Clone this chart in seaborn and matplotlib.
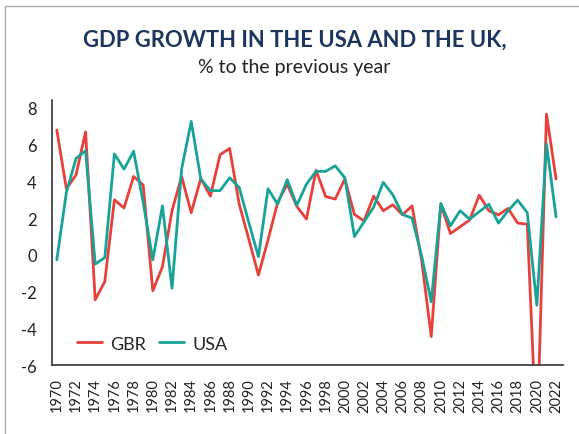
import numpy as np
import pandas as pd
import seaborn as sns
import matplotlib.pyplot as plt
from matplotlib.patches import Rectangle

# Données
years = list(range(1970, 2023))
gbr = [6.8, 3.6, 4.35, 6.7, -2.45, -1.45, 3.0, 2.55, 4.27, 3.8,
       -1.96, -0.65, 2.4, 4.27, 2.3, 4.16, 3.2, 5.45, 5.8, 2.76,
       0.85, -1.1, 0.82, 2.85, 3.85, 2.64, 1.95, 4.6, 3.18, 3.04,
       4.13, 2.2, 1.85, 3.2, 2.4, 2.73, 2.18, 2.67, -0.3, -4.45,
       2.76, 1.16, 1.53, 1.9, 3.25, 2.4, 2.18, 2.53, 1.73, 1.67,
       -10.4, 7.67, 4.13]
usa = [-0.27, 3.4, 5.25, 5.67, -0.5, -0.15, 5.5, 4.67, 5.64, 2.85,
       -0.27, 2.67, -1.82, 4.67, 7.27, 4.13, 3.5, 3.5, 4.2, 3.67,
       1.76, -0.1, 3.6, 2.76, 4.1, 2.7, 3.85, 4.55, 4.55, 4.85,
       4.2, 1.0, 1.8, 2.6, 3.95, 3.27, 2.2, 2.0, -0.05, -2.56,
       2.8, 1.58, 2.4, 1.95, 2.35, 2.76, 1.73, 2.4, 2.98, 2.3,
       -2.75, 6.04, 2.07]
countries = ['GBR', 'USA']
colors = ['#e8403a', '#17a398']

df = pd.DataFrame({'year': years * 2,
                   'value': gbr + usa,
                   'country': ['GBR'] * len(years) + ['USA'] * len(years)})

sns.set_style('white')
plt.rcParams['font.family'] = ['Lato', 'DejaVu Sans']

fig = plt.figure(figsize=(5.79, 4.35), dpi=100)
ax = fig.add_axes([0.0898, 0.1586, 0.8822, 0.6094])

sns.lineplot(data=df, x='year', y='value', hue='country', hue_order=countries,
             palette=colors, linewidth=2.0, ax=ax)

ax.set_xlim(1969.5, 2022.7)
ax.set_ylim(-6, 8.44)
ax.set_xticks(years[::2])
ax.set_xticklabels([str(y) for y in years[::2]], rotation=90, fontsize=10.5, color='#222222')
ax.set_yticks(range(-6, 9, 2))
ax.set_yticklabels([str(v) for v in range(-6, 9, 2)], fontsize=12, color='#222222')
ax.tick_params(axis='both', length=0)
ax.tick_params(axis='x', pad=9)
ax.tick_params(axis='y', pad=11)
ax.set_xlabel('')
ax.set_ylabel('')
for s in ['top', 'right']:
    ax.spines[s].set_visible(False)
for s in ['left', 'bottom']:
    ax.spines[s].set_color('#333333')
    ax.spines[s].set_linewidth(1.2)

leg = ax.legend(loc='center left', bbox_to_anchor=(0.035, 0.08), ncol=2, frameon=False,
                prop={'size': 13}, handlelength=1.4,
                handletextpad=0.45, columnspacing=0.7, borderaxespad=0)
for line in leg.get_lines():
    line.set_linewidth(2.0)

fig.text(0.51, 0.908, 'GDP GROWTH IN THE USA AND THE UK,', ha='center', va='center',
         fontsize=15.8, fontweight='bold', color='#1c355e')
fig.text(0.508, 0.844, '% to the previous year', ha='center', va='center',
         fontsize=14, color='#222222')

# Cadre gris autour de la figure
fig.add_artist(Rectangle((5 / 579, -0.1), 1.2, 1.1 - 7 / 435,
                         transform=fig.transFigure, fill=False,
                         edgecolor='#aaaaaa', linewidth=1.0))

fig.savefig('out.png', dpi=100)
